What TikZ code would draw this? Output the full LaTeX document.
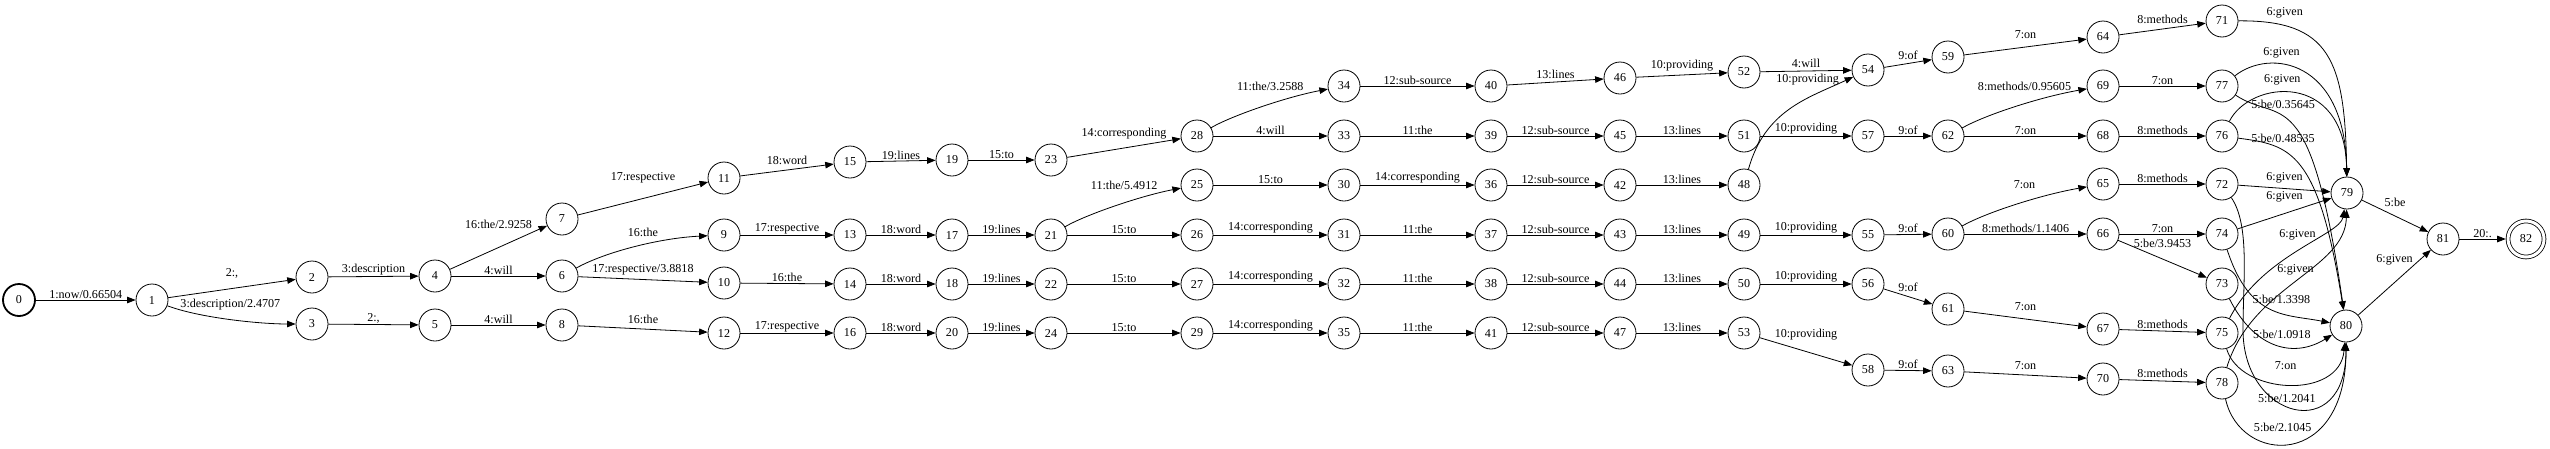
\documentclass[tikz,border=0pt]{standalone}
\usepackage{fontspec}
\setmainfont{Liberation Serif}
\usetikzlibrary{arrows.meta}
\newcommand{\arcfont}{\fontsize{12.1}{14}\selectfont}
\tikzset{
  st/.style={circle,draw,line width=0.8pt,minimum size=32pt,inner sep=0pt,font=\arcfont},
  ststart/.style={st,line width=1.8pt},
  stfinal/.style={st,minimum size=36pt,double,double distance=3pt,outer sep=2.3pt},
  tr/.style={-{Triangle[length=8.5pt,width=6.5pt]},line width=0.8pt},
  lbl/.style={above,inner sep=1pt,font=\arcfont},
}
\begin{document}
\begin{tikzpicture}[x=1pt,y=-1pt]
\useasboundingbox (0,0) rectangle (2550,448);
% states
\node [ststart] (q0) at (19,300) {0};
\node [st] (q1) at (152,300) {1};
\node [st] (q2) at (312,277) {2};
\node [st] (q3) at (312,324) {3};
\node [st] (q4) at (435,276) {4};
\node [st] (q5) at (435,325) {5};
\node [st] (q6) at (562,276) {6};
\node [st] (q7) at (562,219) {7};
\node [st] (q8) at (562,325) {8};
\node [st] (q9) at (724,235) {9};
\node [st] (q10) at (724,283) {10};
\node [st] (q11) at (724,178) {11};
\node [st] (q12) at (724,333) {12};
\node [st] (q13) at (850,235) {13};
\node [st] (q14) at (850,284) {14};
\node [st] (q15) at (850,162) {15};
\node [st] (q16) at (850,333) {16};
\node [st] (q17) at (952,235) {17};
\node [st] (q18) at (952,284) {18};
\node [st] (q19) at (952,160) {19};
\node [st] (q20) at (952,333) {20};
\node [st] (q21) at (1051,235) {21};
\node [st] (q22) at (1051,284) {22};
\node [st] (q23) at (1051,160) {23};
\node [st] (q24) at (1051,333) {24};
\node [st] (q25) at (1197,185) {25};
\node [st] (q26) at (1197,235) {26};
\node [st] (q27) at (1197,284) {27};
\node [st] (q28) at (1197,136) {28};
\node [st] (q29) at (1197,333) {29};
\node [st] (q30) at (1344,185) {30};
\node [st] (q31) at (1344,235) {31};
\node [st] (q32) at (1344,284) {32};
\node [st] (q33) at (1344,136) {33};
\node [st] (q34) at (1344,86) {34};
\node [st] (q35) at (1344,333) {35};
\node [st] (q36) at (1491,185) {36};
\node [st] (q37) at (1491,235) {37};
\node [st] (q38) at (1491,284) {38};
\node [st] (q39) at (1491,136) {39};
\node [st] (q40) at (1491,86) {40};
\node [st] (q41) at (1491,333) {41};
\node [st] (q42) at (1620,185) {42};
\node [st] (q43) at (1620,235) {43};
\node [st] (q44) at (1620,284) {44};
\node [st] (q45) at (1620,136) {45};
\node [st] (q46) at (1620,78) {46};
\node [st] (q47) at (1620,333) {47};
\node [st] (q48) at (1744,185) {48};
\node [st] (q49) at (1744,235) {49};
\node [st] (q50) at (1744,284) {50};
\node [st] (q51) at (1744,136) {51};
\node [st] (q52) at (1744,72) {52};
\node [st] (q53) at (1744,333) {53};
\node [st] (q54) at (1868,70) {54};
\node [st] (q55) at (1868,235) {55};
\node [st] (q56) at (1868,284) {56};
\node [st] (q57) at (1868,136) {57};
\node [st] (q58) at (1868,370) {58};
\node [st] (q59) at (1948,57) {59};
\node [st] (q60) at (1948,234) {60};
\node [st] (q61) at (1948,309) {61};
\node [st] (q62) at (1948,136) {62};
\node [st] (q63) at (1948,371) {63};
\node [st] (q64) at (2103,37) {64};
\node [st] (q65) at (2103,184) {65};
\node [st] (q66) at (2103,234) {66};
\node [st] (q67) at (2103,329) {67};
\node [st] (q68) at (2103,136) {68};
\node [st] (q69) at (2103,86) {69};
\node [st] (q70) at (2103,379) {70};
\node [st] (q71) at (2222,21) {71};
\node [st] (q72) at (2222,184) {72};
\node [st] (q73) at (2222,284) {73};
\node [st] (q74) at (2222,234) {74};
\node [st] (q75) at (2222,333) {75};
\node [st] (q76) at (2222,136) {76};
\node [st] (q77) at (2222,86) {77};
\node [st] (q78) at (2222,383) {78};
\node [st] (q79) at (2347,193) {79};
\node [st] (q80) at (2346,326) {80};
\node [st] (q81) at (2443,239) {81};
\node [stfinal] (q82) at (2526,239) {82};
% arcs
\draw [tr] (q0) -- node[lbl] {1:now/0.66504} (q1);
\draw [tr] (q1) -- node[lbl,yshift=9pt] {2:,} (q2);
\draw [tr] (q1) .. controls (200,318) and (260,324) .. node[lbl,yshift=8pt] {3:description/2.4707} (q3);
\draw [tr] (q2) -- node[lbl] {3:description} (q4);
\draw [tr] (q3) -- node[lbl] {2:,} (q5);
\draw [tr] (q4) -- node[lbl,yshift=17pt] {16:the/2.9258} (q7);
\draw [tr] (q4) -- node[lbl] {4:will} (q6);
\draw [tr] (q5) -- node[lbl] {4:will} (q8);
\draw [tr] (q6) .. controls (605,252) and (660,238) .. node[lbl,xshift=8pt,yshift=9pt] {16:the} (q9);
\draw [tr] (q6) -- node[lbl,yshift=3pt] {17:respective/3.8818} (q10);
\draw [tr] (q7) -- node[lbl,yshift=14pt] {17:respective} (q11);
\draw [tr] (q8) -- node[lbl,yshift=4pt] {16:the} (q12);
\draw [tr] (q9) -- node[lbl] {17:respective} (q13);
\draw [tr] (q10) -- node[lbl] {16:the} (q14);
\draw [tr] (q11) -- node[lbl,yshift=4pt] {18:word} (q15);
\draw [tr] (q12) -- node[lbl] {17:respective} (q16);
\draw [tr] (q13) -- node[lbl] {18:word} (q17);
\draw [tr] (q14) -- node[lbl] {18:word} (q18);
\draw [tr] (q15) -- node[lbl] {19:lines} (q19);
\draw [tr] (q16) -- node[lbl] {18:word} (q20);
\draw [tr] (q17) -- node[lbl] {19:lines} (q21);
\draw [tr] (q18) -- node[lbl] {19:lines} (q22);
\draw [tr] (q19) -- node[lbl] {15:to} (q23);
\draw [tr] (q20) -- node[lbl] {19:lines} (q24);
\draw [tr] (q21) .. controls (1085,215) and (1140,196) .. node[lbl,xshift=9pt,yshift=15pt] {11:the/5.4912} (q25);
\draw [tr] (q21) -- node[lbl] {15:to} (q26);
\draw [tr] (q22) -- node[lbl] {15:to} (q27);
\draw [tr] (q23) -- node[lbl,yshift=7pt] {14:corresponding} (q28);
\draw [tr] (q24) -- node[lbl] {15:to} (q29);
\draw [tr] (q28) .. controls (1231,116) and (1286,97) .. node[lbl,xshift=9pt,yshift=15pt] {11:the/3.2588} (q34);
\draw [tr] (q28) -- node[lbl] {4:will} (q33);
\draw [tr] (q25) -- node[lbl] {15:to} (q30);
\draw [tr] (q26) -- node[lbl] {14:corresponding} (q31);
\draw [tr] (q27) -- node[lbl] {14:corresponding} (q32);
\draw [tr] (q29) -- node[lbl] {14:corresponding} (q35);
\draw [tr] (q34) -- node[lbl] {12:sub-source} (q40);
\draw [tr] (q33) -- node[lbl] {11:the} (q39);
\draw [tr] (q30) -- node[lbl] {14:corresponding} (q36);
\draw [tr] (q31) -- node[lbl] {11:the} (q37);
\draw [tr] (q32) -- node[lbl] {11:the} (q38);
\draw [tr] (q35) -- node[lbl] {11:the} (q41);
\draw [tr] (q40) -- node[lbl,yshift=2pt] {13:lines} (q46);
\draw [tr] (q39) -- node[lbl] {12:sub-source} (q45);
\draw [tr] (q36) -- node[lbl] {12:sub-source} (q42);
\draw [tr] (q37) -- node[lbl] {12:sub-source} (q43);
\draw [tr] (q38) -- node[lbl] {12:sub-source} (q44);
\draw [tr] (q41) -- node[lbl] {12:sub-source} (q47);
\draw [tr] (q46) -- node[lbl,yshift=2pt] {10:providing} (q52);
\draw [tr] (q45) -- node[lbl] {13:lines} (q51);
\draw [tr] (q42) -- node[lbl] {13:lines} (q48);
\draw [tr] (q43) -- node[lbl] {13:lines} (q49);
\draw [tr] (q44) -- node[lbl] {13:lines} (q50);
\draw [tr] (q47) -- node[lbl] {13:lines} (q53);
\draw [tr] (q52) -- node[lbl,yshift=2pt] {4:will} (q54);
\draw [tr] (q48) .. controls (1765,110) and (1808,98) .. node[lbl,pos=0.65,yshift=12pt] {10:providing} (q54);
\draw [tr] (q51) -- node[lbl] {10:providing} (q57);
\draw [tr] (q49) -- node[lbl] {10:providing} (q55);
\draw [tr] (q50) -- node[lbl] {10:providing} (q56);
\draw [tr] (q53) -- node[lbl,yshift=10pt] {10:providing} (q58);
\draw [tr] (q54) -- node[lbl,yshift=2pt] {9:of} (q59);
\draw [tr] (q57) -- node[lbl] {9:of} (q62);
\draw [tr] (q55) -- node[lbl] {9:of} (q60);
\draw [tr] (q56) -- node[lbl,yshift=3pt] {9:of} (q61);
\draw [tr] (q58) -- node[lbl] {9:of} (q63);
\draw [tr] (q59) -- node[lbl,yshift=7pt] {7:on} (q64);
\draw [tr] (q62) .. controls (1985,115) and (2040,97) .. node[lbl,xshift=9pt,yshift=15pt] {8:methods/0.95605} (q69);
\draw [tr] (q62) -- node[lbl] {7:on} (q68);
\draw [tr] (q60) .. controls (1985,213) and (2040,195) .. node[lbl,xshift=9pt,yshift=15pt] {7:on} (q65);
\draw [tr] (q60) -- node[lbl] {8:methods/1.1406} (q66);
\draw [tr] (q61) -- node[lbl,yshift=7pt] {7:on} (q67);
\draw [tr] (q63) -- node[lbl,yshift=4pt] {7:on} (q70);
\draw [tr] (q64) -- node[lbl,yshift=4pt] {8:methods} (q71);
\draw [tr] (q69) -- node[lbl] {7:on} (q77);
\draw [tr] (q68) -- node[lbl] {8:methods} (q76);
\draw [tr] (q65) -- node[lbl] {8:methods} (q72);
\draw [tr] (q66) -- node[lbl] {7:on} (q74);
\draw [tr] (q66) -- node[lbl,yshift=10pt] {5:be/3.9453} (q73);
\draw [tr] (q67) -- node[lbl,yshift=1pt] {8:methods} (q75);
\draw [tr] (q70) -- node[lbl,yshift=2pt] {8:methods} (q78);
% into 79 and 80
\draw [tr] (q71) .. controls (2330,20) and (2345,60) .. node[lbl,pos=0.2,yshift=6pt] {6:given} (q79);
\draw [tr] (q77) .. controls (2270,48) and (2345,60) .. node[lbl,pos=0.35,yshift=5pt] {6:given} (q79);
\draw [tr] (q76) .. controls (2250,80) and (2345,70) .. node[lbl,pos=0.42,yshift=6pt] {6:given} (q79);
\draw [tr] (q72) -- node[lbl,yshift=4pt] {6:given} (q79);
\draw [tr] (q74) -- node[lbl,yshift=10pt] {6:given} (q79);
\draw [tr] (q75) .. controls (2262,255) and (2340,235) .. node[lbl,yshift=8pt] {6:given} (q79);
\draw [tr] (q78) .. controls (2252,285) and (2345,270) .. node[lbl,yshift=4pt] {6:given} (q79);
\draw [tr] (q77) .. controls (2280,125) and (2310,76) .. node[lbl,pos=0.3,xshift=11pt] {5:be/0.35645} (q80);
\draw [tr] (q76) .. controls (2290,145) and (2318,150) .. node[lbl,pos=0.3,xshift=4pt,yshift=4pt] {5:be/0.48535} (q80);
\draw [tr] (q74) .. controls (2250,320) and (2286,314) .. node[lbl,pos=0.6,yshift=8pt] {5:be/1.3398} (q80);
\draw [tr] (q73) .. controls (2255,350) and (2295,358) .. node[lbl,pos=0.55,yshift=6pt] {5:be/1.0918} (q80);
\draw [tr] (q75) .. controls (2240,395) and (2340,400) .. node[lbl,pos=0.48,yshift=13pt] {7:on} (q80);
\draw [tr] (q72) .. controls (2250,225) and (2243,280) .. (2243,330) .. controls (2243,420) and (2346,445) .. node[lbl,pos=0.45,yshift=2pt] {5:be/1.2041} (q80);
\draw [tr] (q78) .. controls (2240,465) and (2346,470) .. node[lbl,pos=0.45,yshift=11pt] {5:be/2.1045} (q80);
\draw [tr] (q79) -- node[lbl,yshift=8pt] {5:be} (q81);
\draw [tr] (q80) -- node[lbl,yshift=16pt] {6:given} (q81);
\draw [tr] (q81) -- node[lbl] {20:.} (q82);
\end{tikzpicture}
\end{document}
